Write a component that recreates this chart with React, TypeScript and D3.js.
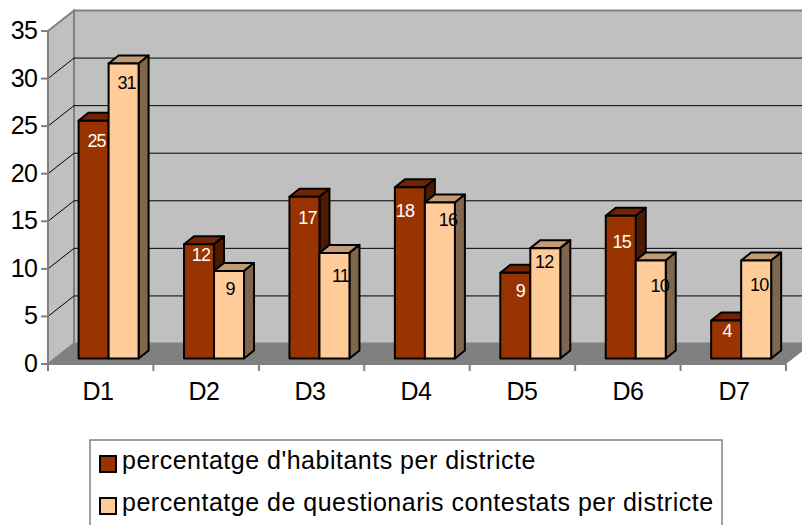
import React from "react";
import * as d3 from "d3";

const categories = ["D1", "D2", "D3", "D4", "D5", "D6", "D7"];
const habitants = [25, 12, 17, 18, 9, 15, 4];
const questionaris = [31, 9.2, 11.1, 16.4, 11.6, 10.3, 10.3];
const yTicks = [0, 5, 10, 15, 20, 25, 30, 35];
const seriesNames = [
  "percentatge d'habitants per districte",
  "percentatge de questionaris contestats per districte",
];

const FONT = "'Liberation Sans', Arial, sans-serif";
const DARK = { front: "#993300", top: "#702500", side: "#4d1a00" };
const LIGHT = { front: "#ffcc99", top: "#c29a73", side: "#80664d" };

export default function App() {
  const x = d3.scaleLinear().domain([0, 7]).range([48, 786]);
  const labelX = d3.scaleLinear().domain([0, 6]).range([98, 734]);
  const y = d3.scaleLinear().domain([0, 35]).range([364, 31]);
  const wallDx = 26;
  const wallDy = -20.5;
  const barInX = 30.6;
  const barW = 30;
  const barOy = -5.5;
  const bdx = 10;
  const bdy = -8;

  const pts = (p: number[][]) => p.map((q) => q.join(",")).join(" ");

  const bar = (cat: number, s: number, v: number, c: typeof DARK) => {
    const x0 = x(cat) + barInX + s * barW;
    const x1 = x0 + barW;
    const yb = y(0) + barOy;
    const yt = y(v) + barOy;
    return (
      <g key={`${cat}-${s}`} stroke="#000" strokeWidth={2} strokeLinejoin="round">
        <polygon points={pts([[x0, yt], [x0 + bdx, yt + bdy], [x1 + bdx, yt + bdy], [x1, yt]])} fill={c.top} />
        <polygon points={pts([[x1, yt], [x1 + bdx, yt + bdy], [x1 + bdx, yb + bdy], [x1, yb]])} fill={c.side} />
        <rect x={x0} y={yt} width={barW} height={yb - yt} fill={c.front} />
      </g>
    );
  };

  // Hand placement of the value labels as seen in the source image
  const nudgeDark = [[3, 20], [2, 11], [3, 21], [-5, 24], [5, 18], [1, 26], [1, 11]];
  const nudgeLight = [[3, 19], [1, 18], [6, 23], [8, 18], [-1, 14], [9, 25], [3, 24]];

  const label = (cat: number, s: number, v: number, n: number[], fill: string) => {
    const x0 = x(cat) + barInX + s * barW;
    return (
      <text
        key={`l${cat}-${s}`}
        x={x0 + barW / 2 + n[0]}
        y={y(v) + barOy + n[1]}
        textAnchor="middle"
        dominantBaseline="central"
        fontSize={18}
        letterSpacing={-0.8}
        fill={fill}
      >
        {Math.round(v)}
      </text>
    );
  };

  return (
    <svg
      width={802}
      height={525}
      style={{ position: "absolute", left: 0, top: 0, background: "#fff" }}
      fontFamily={FONT}
    >
      {/* walls */}
      <polygon
        points={pts([[x(0), y(35)], [x(0) + wallDx, y(35) + wallDy], [x(0) + wallDx, y(0) + wallDy], [x(0), y(0)]])}
        fill="#c0c0c0"
        stroke="#808080"
        strokeWidth={2}
      />
      <rect
        x={x(0) + wallDx}
        y={y(35) + wallDy}
        width={802 - x(0) - wallDx + 20}
        height={y(0) - y(35)}
        fill="#c0c0c0"
        stroke="#808080"
        strokeWidth={2}
      />
      <polygon
        points={pts([[x(0), y(0)], [x(0) + wallDx, y(0) + wallDy], [x(7) + wallDx, y(0) + wallDy], [x(7), y(0)]])}
        fill="#808080"
      />
      {/* gridlines */}
      {yTicks.slice(1, -1).map((t) => (
        <g key={t} stroke="#000" strokeWidth={1}>
          <line x1={x(0)} y1={y(t)} x2={x(0) + wallDx} y2={y(t) + wallDy} />
          <line x1={x(0) + wallDx} y1={y(t) + wallDy} x2={812} y2={y(t) + wallDy} />
        </g>
      ))}
      {/* axes */}
      <line x1={x(0)} y1={y(0)} x2={x(0)} y2={y(35)} stroke="#808080" strokeWidth={2} />
      <line x1={x(0)} y1={y(0)} x2={x(7)} y2={y(0)} stroke="#808080" strokeWidth={2} />
      {yTicks.map((t) => (
        <g key={t}>
          <line x1={x(0) - 7} y1={y(t)} x2={x(0)} y2={y(t)} stroke="#808080" strokeWidth={2} />
          <text x={37.5} y={y(t) - 1} textAnchor="end" dominantBaseline="central" fontSize={25} letterSpacing={-0.5} fill="#000">
            {t}
          </text>
        </g>
      ))}
      {d3.range(8).map((i) => (
        <line key={i} x1={x(i)} y1={y(0)} x2={x(i)} y2={y(0) + 7} stroke="#808080" strokeWidth={2} />
      ))}
      {categories.map((c, i) => (
        <text key={c} x={labelX(i)} y={391} textAnchor="middle" dominantBaseline="central" fontSize={25} letterSpacing={-0.5} fill="#000">
          {c}
        </text>
      ))}
      {/* bars */}
      {categories.map((_, i) => bar(i, 0, habitants[i], DARK))}
      {categories.map((_, i) => bar(i, 1, questionaris[i], LIGHT))}
      {categories.map((_, i) => label(i, 0, habitants[i], nudgeDark[i], "#fff"))}
      {categories.map((_, i) => label(i, 1, questionaris[i], nudgeLight[i], "#000"))}
      {/* legend */}
      <rect x={90} y={440} width={632} height={100} fill="#fff" stroke="#808080" strokeWidth={1.5} />
      {seriesNames.map((n, i) => (
        <g key={n}>
          <rect
            x={100}
            y={456 + i * 42}
            width={16}
            height={16}
            fill={i === 0 ? DARK.front : LIGHT.front}
            stroke="#000"
            strokeWidth={2}
          />
          <text x={122} y={469 + i * 42} fontSize={25} letterSpacing={0.5} fill="#000">
            {n}
          </text>
        </g>
      ))}
    </svg>
  );
}
